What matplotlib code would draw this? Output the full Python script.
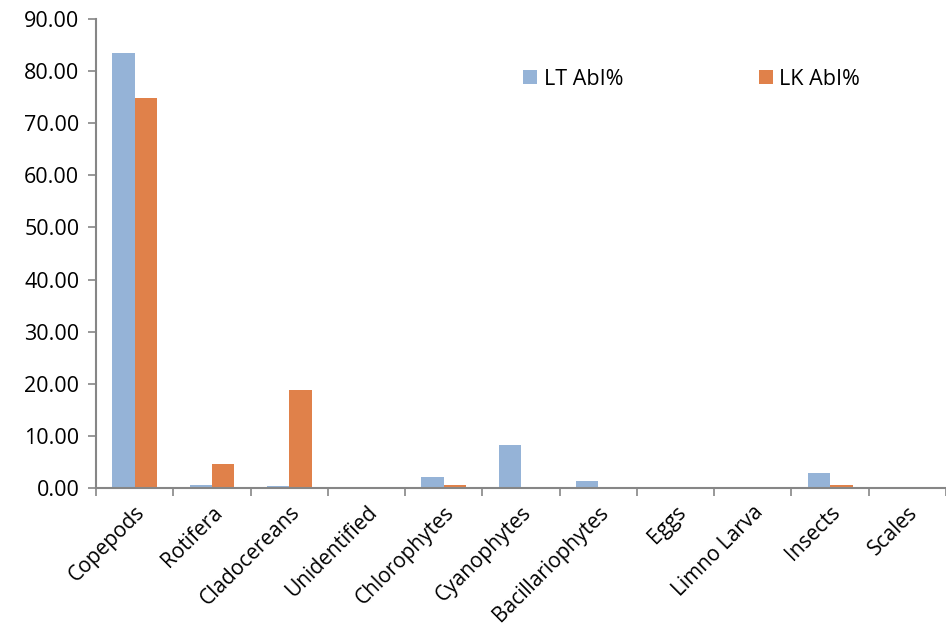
import numpy as np
import matplotlib.pyplot as plt

# ── Données ─────────────────────────────────────────────
categories = ['Copepods', 'Rotifera', 'Cladocereans', 'Unidentified', 'Chlorophytes',
              'Cyanophytes', 'Bacillariophytes', 'Eggs', 'Limno Larva', 'Insects', 'Scales']
lt_abi = [83.5, 0.6, 0.4, 0.0, 2.1, 8.3, 1.4, 0.0, 0.0, 2.9, 0.0]
lk_abi = [74.9, 4.6, 18.8, 0.0, 0.6, 0.0, 0.0, 0.0, 0.0, 0.5, 0.0]
y_ticks = np.arange(0, 91, 10)

plt.rcParams['font.family'] = ['Open Sans', 'DejaVu Sans']

fig = plt.figure(figsize=(9.46, 6.38), dpi=100)
ax = fig.add_axes([96 / 946, 1 - 488 / 638, 850 / 946, 469 / 638])

x = np.arange(len(categories))
w = 0.29
ax.bar(x - w / 2, lt_abi, w, color='#95B3D7', label='LT AbI%')
ax.bar(x + w / 2, lk_abi, w, color='#E0814A', label='LK AbI%')

ax.set_xlim(-0.5, len(categories) - 0.5)
ax.set_ylim(0, 90)
ax.set_yticks(y_ticks)
ax.set_yticklabels([f"{v:.2f}" for v in y_ticks], fontsize=15.5)
ax.set_xticks(x)
ax.set_xticklabels(categories, rotation=45, ha='right', rotation_mode='anchor', fontsize=15)
ax.set_xticks(np.arange(-0.5, len(categories), 1), minor=True)
ax.tick_params(axis='x', which='major', length=0, pad=10)
ax.tick_params(axis='x', which='minor', length=6, color='#868686', width=1.2)
ax.tick_params(axis='y', length=6, color='#868686', width=1.2, pad=6)

for s in ['top', 'right']:
    ax.spines[s].set_visible(False)
for s in ['left', 'bottom']:
    ax.spines[s].set_color('#868686')
    ax.spines[s].set_linewidth(1.5)

ax.legend(loc='upper left', bbox_to_anchor=(0.48, 0.935), ncol=2, frameon=False,
          fontsize=15.5, handlelength=0.65, handleheight=0.65, handletextpad=0.3,
          columnspacing=6.3)

plt.savefig('out.png')
